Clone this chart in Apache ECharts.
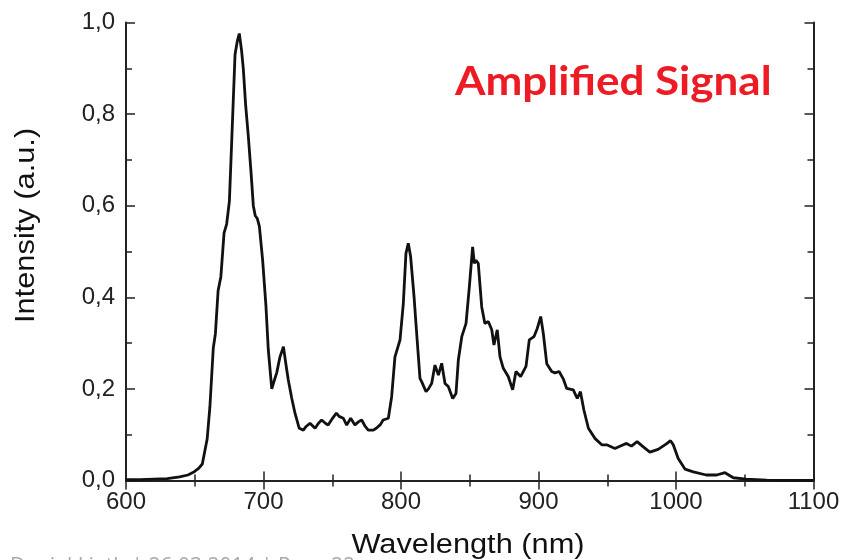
<!DOCTYPE html>
<html><head><meta charset="utf-8">
<script src="https://cdn.jsdelivr.net/npm/echarts@6/dist/echarts.min.js"></script>
<style>html,body{margin:0;padding:0;background:#fff}#c{width:848px;height:560px}</style>
</head><body><div id="c"></div>
<script>
const wavelengths = [600,610,620,630,639,645,649,653,655.5,657.5,659,661,663.5,665,667,669,671.3,673.2,675.2,677,679.3,681,682.4,684,685.3,687,689,691,692.6,694,695.5,696.3,697,699.4,701.8,703.5,706,708,709.6,712,714.5,716,718,720.5,722.9,726,729,731,733.8,737.5,740,742.3,745,747,750,753,755,758,760.5,763.4,766.5,769,771.4,774,776.2,779.9,782,785,787,790.8,793.2,795.6,799.3,801.7,803.6,805.3,807,809.5,811.4,813.8,815,818.2,820,822.3,824.7,827.2,829.6,832,834.4,837.6,840,841.7,844.2,847.3,849.7,852.1,853.3,854.5,856.2,858.7,861,863.5,866,867.6,870,872,874.4,878,881.2,883.6,887,890.9,893.3,896.7,899.1,901.6,903.5,906,909.6,912,915,918,920.5,925.3,928.2,930.5,933,936.3,941,946,949.6,955.6,960,964,967.6,971.7,976,981,987,993,996,998,1001.6,1006.5,1012.6,1022,1029.6,1035.6,1041.7,1051,1066,1100];
const intensity = [0.002,0.002,0.003,0.004,0.008,0.012,0.018,0.027,0.036,0.067,0.09,0.16,0.29,0.32,0.415,0.445,0.54,0.56,0.61,0.75,0.93,0.96,0.976,0.94,0.9,0.82,0.75,0.67,0.6,0.578,0.572,0.57,0.555,0.48,0.38,0.285,0.2,0.22,0.235,0.27,0.292,0.26,0.22,0.18,0.147,0.114,0.11,0.118,0.125,0.114,0.125,0.132,0.125,0.121,0.135,0.147,0.14,0.136,0.121,0.136,0.121,0.128,0.132,0.118,0.11,0.11,0.114,0.122,0.132,0.136,0.183,0.27,0.307,0.387,0.496,0.518,0.489,0.401,0.321,0.223,0.216,0.194,0.2,0.212,0.252,0.23,0.256,0.212,0.205,0.179,0.19,0.263,0.314,0.343,0.423,0.51,0.474,0.481,0.474,0.379,0.343,0.347,0.329,0.296,0.329,0.27,0.245,0.227,0.198,0.238,0.227,0.249,0.307,0.314,0.332,0.358,0.321,0.255,0.238,0.235,0.238,0.222,0.201,0.198,0.179,0.194,0.154,0.114,0.092,0.078,0.078,0.07,0.076,0.081,0.075,0.085,0.074,0.062,0.068,0.08,0.087,0.078,0.048,0.025,0.019,0.012,0.012,0.017,0.006,0.003,0.001,0.0];
const xTickLabels = ['600','700','800','900','1000','1100'];
const yTickLabels = ['0,0','0,2','0,4','0,6','0,8','1,0'];
const xTitle = 'Wavelength (nm)';
const yTitle = 'Intensity (a.u.)';
const annotation = 'Amplified Signal';
const footer = 'Daniel Lieth | 26.03.2014 | Page 22';

const chart = echarts.init(document.getElementById('c'));
const font = '"Liberation Sans", Arial, sans-serif';
const axisLine = {show:true, lineStyle:{color:'#222', width:2}};
const tick = {show:true, inside:true, length:9, lineStyle:{color:'#222', width:1.5}};
const minor = {show:true, splitNumber:2, length:6, lineStyle:{color:'#222', width:1.5}};
const data = wavelengths.map((w,i)=>[w,intensity[i]]);
chart.setOption({
  animation:false,
  grid:{left:126, right:34.5, top:22.5, bottom:79.5},
  xAxis:[
    {type:'value', min:600, max:1100, interval:100, axisLine, axisTick:tick, minorTick:minor, splitLine:{show:false},
     axisLabel:{margin:10, fontSize:24, color:'#222', fontFamily:font, formatter:(v)=>xTickLabels[Math.round((v-600)/100)]}},
    {type:'value', position:'top', min:600, max:1100, interval:100, axisLine, axisTick:tick, minorTick:minor, splitLine:{show:false}, axisLabel:{show:false}}
  ],
  yAxis:[
    {type:'value', min:0, max:1, interval:0.2, axisLine, axisTick:tick, minorTick:minor, splitLine:{show:false},
     axisLabel:{margin:11, fontSize:24, color:'#222', fontFamily:font, formatter:(v)=>yTickLabels[Math.round(v/0.2)]}},
    {type:'value', position:'right', min:0, max:1, interval:0.2, axisLine, axisTick:tick, minorTick:minor, splitLine:{show:false}, axisLabel:{show:false}}
  ],
  series:[{type:'line', data, showSymbol:false, smooth:false, lineStyle:{color:'#111', width:2.8}, xAxisIndex:0, yAxisIndex:0}],
  graphic:[
    {type:'text', x:468, y:532, scaleX:1.14, style:{text:xTitle, textAlign:'center', textVerticalAlign:'top', fontSize:27, fontFamily:font, fill:'#111'}},
    {type:'text', rotation:Math.PI/2, x:12, y:323, scaleX:1.1, style:{text:yTitle, fontSize:28, fontFamily:font, fill:'#111', textVerticalAlign:'top'}},
    {type:'text', x:455, y:62, scaleX:1.1, style:{text:annotation, fontSize:40, fontWeight:'bold', fontFamily:'Lato, "Open Sans", sans-serif', fill:'#ed1c24'}},
    {type:'text', x:10, y:557, style:{text:footer, fontSize:21, fontFamily:'"Open Sans", sans-serif', fill:'#aaa'}}
  ]
});
</script></body></html>
